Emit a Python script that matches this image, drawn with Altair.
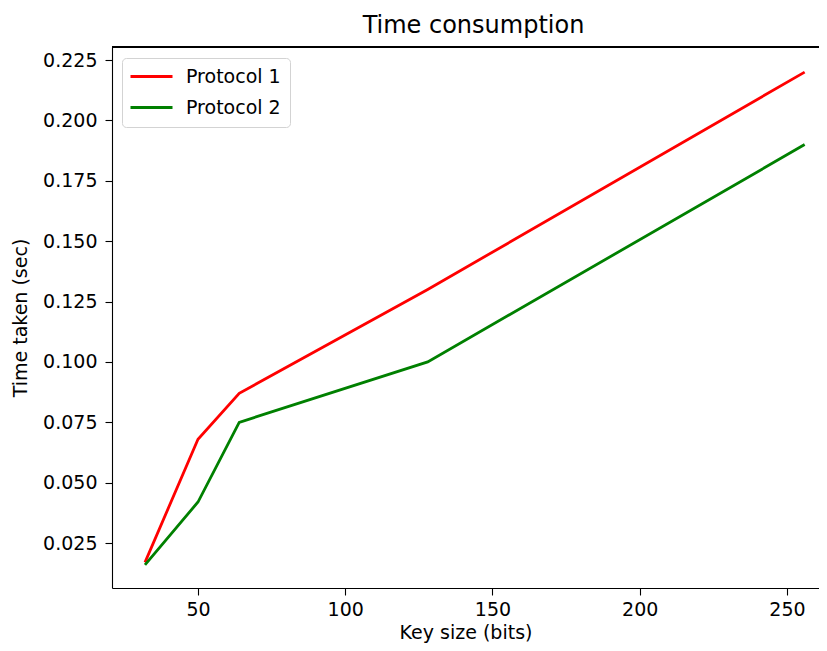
import altair as alt
import pandas as pd

key_sizes = [32, 50, 64, 128, 256]
protocol_1 = [0.017, 0.068, 0.087, 0.130, 0.220]
protocol_2 = [0.016, 0.042, 0.075, 0.100, 0.190]
series_names = ["Protocol 1", "Protocol 2"]
series_colors = ["#ff0000", "#008000"]
y_ticks = [0.025, 0.05, 0.075, 0.1, 0.125, 0.15, 0.175, 0.2, 0.225]
x_ticks = [50, 100, 150, 200, 250]

rows = []
for name, vals in zip(series_names, [protocol_1, protocol_2]):
    for k, v in zip(key_sizes, vals):
        rows.append({"key": k, "time": v, "series": name})
df = pd.DataFrame(rows)

W, H = 707, 541
FONT = "DejaVu Sans"

lines = alt.Chart(df).mark_line(strokeWidth=2.8).encode(
    x=alt.X("key:Q", title="Key size (bits)",
            scale=alt.Scale(domain=[20.8, 260.87], nice=False, zero=False),
            axis=alt.Axis(values=x_ticks, format="d", labelPadding=5, titlePadding=4)),
    y=alt.Y("time:Q", title="Time taken (sec)",
            scale=alt.Scale(domain=[0.0064, 0.2304], nice=False, zero=False),
            axis=alt.Axis(values=y_ticks, format=".3f", labelPadding=8, titlePadding=12)),
    color=alt.Color("series:N",
                    scale=alt.Scale(domain=series_names, range=series_colors),
                    legend=alt.Legend(orient="none", legendX=10, legendY=11, title=None,
                                      symbolType="M-2.625,0L2.625,0", symbolSize=256,
                                      symbolStrokeWidth=2.8, labelFont=FONT, labelFontSize=19,
                                      labelColor="#000000", padding=9, rowPadding=11,
                                      symbolOffset=11, labelOffset=25,
                                      strokeColor="#d3d3d3", fillColor="rgba(255,255,255,0.8)",
                                      cornerRadius=4)),
    order="key:Q",
)

top_frame = alt.Chart(df).mark_rule(color="#000000", strokeWidth=1.1).encode(
    x=alt.value(0), x2=alt.value(W), y=alt.value(0)
)

chart = alt.layer(lines, top_frame).properties(
    width=W, height=H,
    title=alt.TitleParams("Time consumption", font=FONT, fontSize=24, fontWeight="normal",
                          color="#000000", anchor="middle", dx=8, offset=8),
    autosize=alt.AutoSizeParams(type="none"),
    padding={"left": 104, "top": 39, "right": 0, "bottom": 55},
).configure_view(stroke=None).configure_axis(
    labelFont=FONT, labelFontSize=19, labelColor="#000000",
    titleFont=FONT, titleFontSize=19, titleColor="#000000", titleFontWeight="normal",
    tickColor="#000000", tickSize=7, tickWidth=1.1,
    domainColor="#000000", domainWidth=1.1, grid=False,
)

chart.save("out.html", embed_options={"renderer": "svg", "actions": False})
